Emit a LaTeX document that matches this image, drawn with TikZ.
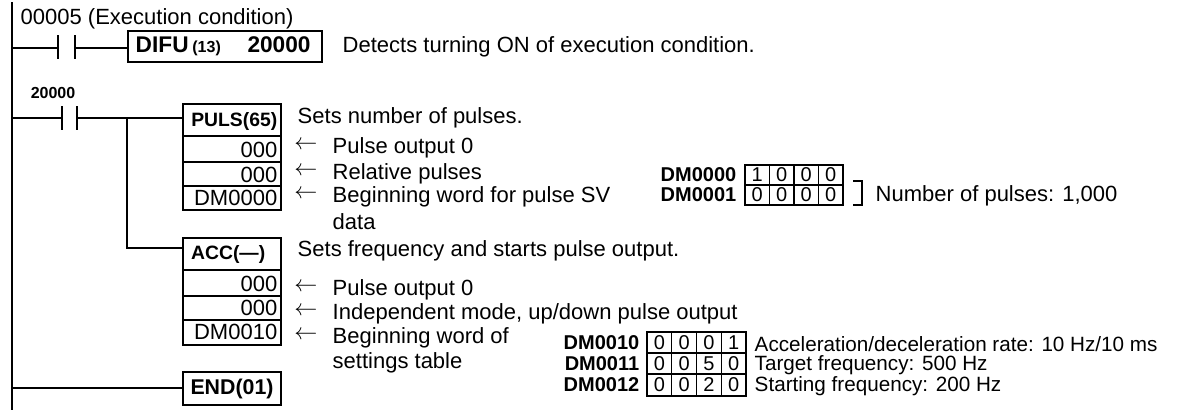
\documentclass[tikz,border=0pt]{standalone}
\usepackage{fontspec}
\setmainfont{Liberation Sans}
\begin{document}
\begin{tikzpicture}[x=0.75pt,y=-0.75pt,line width=1.1pt,
  t/.style={font=\fontsize{16.5}{18}\selectfont,inner sep=0pt,anchor=west},
  ts/.style={font=\fontsize{15.5}{17}\selectfont,inner sep=0pt,anchor=west},
  hd/.style={inner sep=0pt,anchor=east,font=\fontsize{14.5}{16}\selectfont\bfseries},
  rw/.style={inner sep=0pt,anchor=east,font=\fontsize{16.5}{18}\selectfont},
  cd/.style={inner sep=0pt,font=\fontsize{15}{16}\selectfont},
  dml/.style={font=\fontsize{15}{16}\selectfont\bfseries,inner sep=0pt,anchor=east},
  ar/.style={font=\fontsize{16}{18}\selectfont,inner sep=0pt}]
\useasboundingbox (0,0) rectangle (1190,418);
% rail
\coordinate (rt) at (12,2); \coordinate (rb) at (12,410);
\draw (rt) -- (rb);
% rung 1
\node[t] (c1) at (20,19) {00005 (Execution condition)};
\coordinate (r1) at (12,48); \coordinate (a1) at (58,48); \coordinate (b1) at (75,48);
\draw (r1) -- (a1); \draw (58,35) -- (58,59); \draw (75,35) -- (75,59);
\draw (128,31) rectangle (322,62);
\node[inner sep=0pt,anchor=west,font=\fontsize{17}{18}\selectfont\bfseries] (difu) at (135,46) {DIFU\,{\fontsize{12}{14}\selectfont(13)}\hspace{20pt}20000};
\coordinate (dw) at (128,48);
\draw (b1) -- (dw);
\node[t] (d1) at (342,47) {Detects turning ON of execution condition.};
% rung 2
\node[font=\fontsize{12}{14}\selectfont\bfseries,inner sep=0pt] (l2) at (53,93) {20000};
\coordinate (r2) at (12,118); \coordinate (a2) at (62,118); \coordinate (b2) at (77,118);
\draw (r2) -- (a2); \draw (62,106) -- (62,130); \draw (77,106) -- (77,130);
% PULS box
\draw (183,104) rectangle (281,210); \draw (183,136) -- (281,136); \draw (183,162) -- (281,162); \draw (183,186) -- (281,186);
\node[hd] (p0) at (278,121) {PULS(65)};
\node[rw] (p1) at (278,150) {000};
\node[rw] (p2) at (278,175) {000};
\node[rw] (p3) at (278,198) {DM0000};
\coordinate (pw) at (183,118);
\draw (b2) -- (pw);
\coordinate (br) at (127,118);
% ACC box
\draw (183,238) rectangle (281,345); \draw (183,270) -- (281,270); \draw (183,296) -- (281,296); \draw (183,320) -- (281,320);
\node[hd] (q0) at (266,254) {ACC(---)};
\node[rw] (q1) at (278,284) {000};
\node[rw] (q2) at (278,308) {000};
\node[rw] (q3) at (278,332) {DM0010};
\coordinate (qw) at (183,248);
\draw (br) |- (qw);
% END
\draw (183,372) rectangle (281,405);
\node[inner sep=0pt,font=\fontsize{16}{18}\selectfont\bfseries] (e0) at (232,389) {END(01)};
\coordinate (ew) at (183,388);
\draw (ew -| rt) -- (ew);
% texts
\node[t] at (297,118) {Sets number of pulses.};
\foreach \y/\s in {148/Pulse output 0,174/Relative pulses,197/Beginning word for pulse SV}{
  \node[ar] at (306,\y-3) {$\leftarrow$}; \node[t] at (332,\y) {\s};}
\node[t] at (332,222) {data};
\node[t] at (297,251) {Sets frequency and starts pulse output.};
\foreach \y/\s in {290/Pulse output 0,314/{Independent mode, up/down pulse output},338/Beginning word of}{
  \node[ar] at (306,\y-3) {$\leftarrow$}; \node[t] at (332,\y) {\s};}
\node[t] at (332,363) {settings table};
% table 1
\draw (745,165) rectangle (843,205); \draw (745,185) -- (843,185);
\foreach \k in {1,2,3} \draw (745+24.5*\k,165) -- (745+24.5*\k,205);
\foreach \r/\lab/\vals in {175/DM0000/{1,0,0,0},195/DM0001/{0,0,0,0}}{
  \node[dml] at (737,\r) {\lab};
  \foreach \v [count=\j] in \vals { \node[cd] at (745+24.5*\j-12.25,\r) {\v}; }}
\draw (853,181) -- (862,181) -- (862,205) -- (853,205);
\node[t] at (875,196) {Number of pulses: 1,000};
% table 2
\draw (647,332) rectangle (746,396); \draw (647,353) -- (746,353); \draw (647,374) -- (746,374);
\foreach \k in {1,2,3} \draw (647+24.75*\k,332) -- (647+24.75*\k,396);
\foreach \r/\lab/\vals/\txt in {343/DM0010/{0,0,0,1}/{Acceleration/deceleration rate: 10 Hz/10 ms},364/DM0011/{0,0,5,0}/{Target frequency: 500 Hz},385/DM0012/{0,0,2,0}/{Starting frequency: 200 Hz}}{
  \node[dml] at (640,\r) {\lab};
  \foreach \v [count=\j] in \vals { \node[cd] at (647+24.75*\j-12.4,\r) {\v}; }
  \node[ts] at (754,\r+1) {\txt};}
\end{tikzpicture}
\end{document}
